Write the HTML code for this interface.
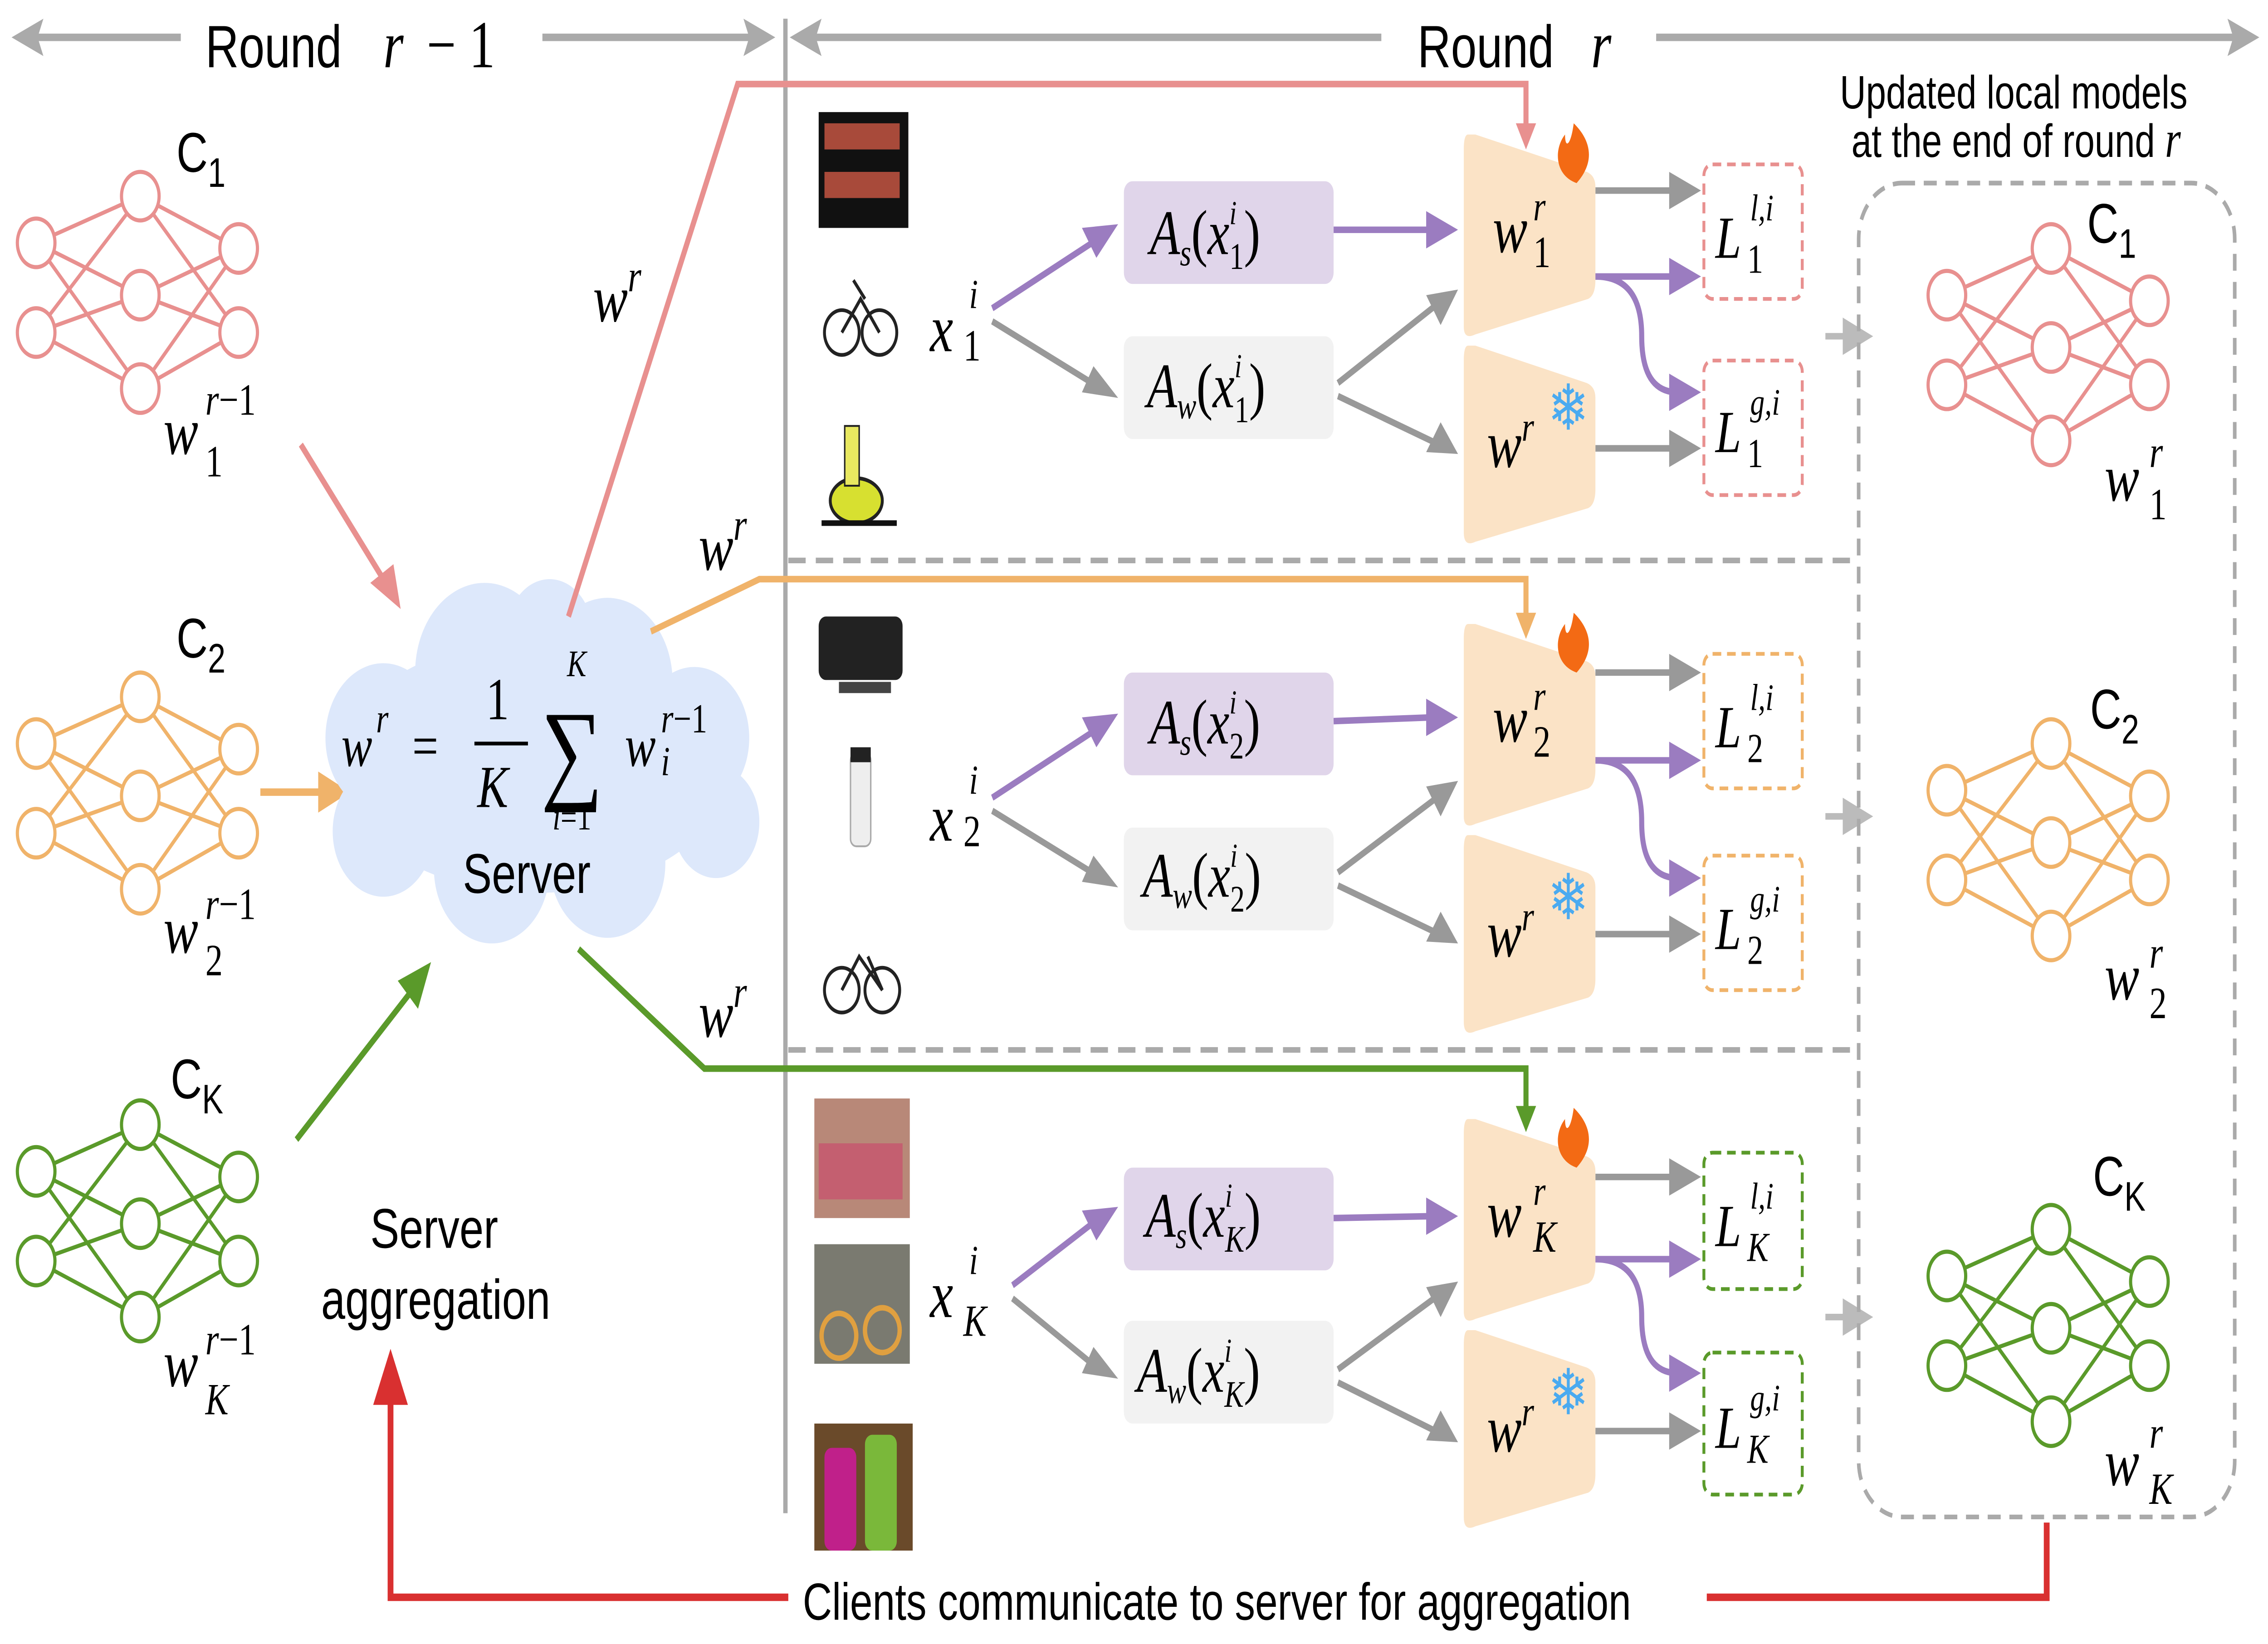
<!DOCTYPE html>
<html><head><meta charset="utf-8"><style>
html,body{margin:0;padding:0;background:#fff;width:100%;height:100%;overflow:hidden}
svg{display:block;width:100vw;height:100vh}
.s{font-family:"Liberation Sans",sans-serif}
.m{font-family:"Liberation Serif","DejaVu Serif",serif;font-style:italic}
.r{font-family:"Liberation Serif","DejaVu Serif",serif;font-style:normal}
</style></head><body>
<svg viewBox="0 0 1568 880" preserveAspectRatio="none" xmlns="http://www.w3.org/2000/svg">
<defs>
<g id="net" fill="#fff" stroke-width="2.2">
<g stroke="currentColor" fill="none">
<path d="M-72,25L0,0M-72,25L0,53M-72,25L0,103M-72,73L0,0M-72,73L0,53M-72,73L0,103M0,0L68,28M0,0L68,73M0,53L68,28M0,53L68,73M0,103L68,28M0,103L68,73"/>
</g>
<g stroke="currentColor">
<circle cx="-72" cy="25" r="13"/><circle cx="-72" cy="73" r="13"/>
<circle cx="0" cy="0" r="13"/><circle cx="0" cy="53" r="13"/><circle cx="0" cy="103" r="13"/>
<circle cx="68" cy="28" r="13"/><circle cx="68" cy="73" r="13"/>
</g>
</g>
<g id="encT"><path d="M1015,72 Q1012,72 1012,80 L1012,175 Q1012,182 1020,179 L1098,160 Q1103,158 1103,150 L1103,100 Q1103,94 1097,92 L1020,72 Z" fill="#fbe3c6"/></g>
<g id="encB"><path d="M1015,185 Q1012,185 1012,193 L1012,285 Q1012,293 1020,290 L1098,272 Q1103,270 1103,262 L1103,213 Q1103,207 1097,205 L1020,185 Z" fill="#fbe3c6"/></g>
</defs>

<g stroke="#aaa" stroke-width="4" fill="#aaa">
<line x1="22" y1="20" x2="125" y2="20"/><line x1="375" y1="20" x2="522" y2="20"/>
<path d="M8,20 L30,10 L26,20 L30,30Z" stroke="none"/>
<path d="M536,20 L514,10 L518,20 L514,30Z" stroke="none"/>
<line x1="560" y1="20" x2="955" y2="20"/><line x1="1145" y1="20" x2="1548" y2="20"/>
<path d="M546,20 L568,10 L564,20 L568,30Z" stroke="none"/>
<path d="M1562,20 L1540,10 L1544,20 L1540,30Z" stroke="none"/>
</g>
<text x="142" y="36" class="s" font-size="32">Round</text>
<text x="265" y="36" class="m" font-size="36">r</text><text x="295" y="36" class="r" font-size="36">− 1</text>
<text x="980" y="36" class="s" font-size="32">Round</text>
<text x="1100" y="36" class="m" font-size="36">r</text>

<line x1="543" y1="10" x2="543" y2="810" stroke="#aaa" stroke-width="3"/>
<g stroke="#aaa" stroke-width="3" stroke-dasharray="12,7">
<line x1="545" y1="300" x2="1280" y2="300"/><line x1="545" y1="562" x2="1280" y2="562"/>
</g>

<use href="#net" x="97" y="105" style="color:#e8908f"/>
<use href="#net" x="97" y="373" style="color:#f0b36a"/>
<use href="#net" x="97" y="602" style="color:#5a9a2a"/>
<text x="122" y="92" class="s" font-size="30">C<tspan font-size="22" dy="8">1</tspan></text>
<text x="122" y="352" class="s" font-size="30">C<tspan font-size="22" dy="8">2</tspan></text>
<text x="118" y="588" class="s" font-size="30">C<tspan font-size="22" dy="8">K</tspan></text>
<g class="m" font-size="36">
<text x="113" y="243">w</text><text x="142" y="222" font-size="24">r<tspan class="r">−1</tspan></text><text x="142" y="255" font-size="24" class="r">1</text>
<text x="113" y="510">w</text><text x="142" y="492" font-size="24">r<tspan class="r">−1</tspan></text><text x="142" y="522" font-size="24" class="r">2</text>
<text x="113" y="742">w</text><text x="142" y="725" font-size="24">r<tspan class="r">−1</tspan></text><text x="142" y="757" font-size="24">K</text>
</g>

<line x1="208" y1="238" x2="265" y2="310" stroke="#e8908f" stroke-width="3.5"/>
<path d="M277,326 L256,312 L272,302Z" fill="#e8908f"/>
<line x1="180" y1="424" x2="222" y2="424" stroke="#f0b36a" stroke-width="4"/>
<path d="M242,424 L220,413 L220,435Z" fill="#f0b36a"/>
<line x1="205" y1="610" x2="285" y2="530" stroke="#5a9a2a" stroke-width="3.5"/>
<path d="M298,515 L275,525 L289,540Z" fill="#5a9a2a"/>

<g fill="#dde8fb">
<ellipse cx="370" cy="410" rx="135" ry="68"/>
<circle cx="335" cy="360" r="48"/><circle cx="420" cy="365" r="45"/><circle cx="265" cy="395" r="40"/>
<circle cx="480" cy="395" r="38"/><circle cx="495" cy="440" r="30"/><circle cx="265" cy="445" r="35"/>
<circle cx="340" cy="465" r="40"/><circle cx="420" cy="462" r="40"/><circle cx="380" cy="340" r="30"/>
</g>
<g class="m" font-size="32">
<text x="236" y="410">w</text><text x="260" y="392" font-size="22">r</text>
<text x="285" y="410" class="r">=</text>
<text x="336" y="385" class="r">1</text><line x1="328" y1="398" x2="365" y2="398" stroke="#000" stroke-width="2"/>
<text x="330" y="432">K</text>
<text x="374" y="422" class="r" font-size="60">∑</text>
<text x="392" y="362" font-size="20">K</text><text x="382" y="444" font-size="20">i<tspan class="r">=1</tspan></text>
<text x="432" y="410">w</text><text x="457" y="392" font-size="22">r<tspan class="r">−1</tspan></text><text x="457" y="415" font-size="22">i</text>
</g>
<text x="320" y="478" class="s" font-size="30">Server</text>
<text x="256" y="668" class="s" font-size="30">Server</text>
<text x="222" y="706" class="s" font-size="30">aggregation</text>

<polyline points="393,330 510,45 1055,45 1055,68" fill="none" stroke="#e8908f" stroke-width="3.5"/>
<path d="M1055,80 L1048,66 L1062,66Z" fill="#e8908f"/>
<polyline points="450,338 525,310 1055,310 1055,330" fill="none" stroke="#f0b36a" stroke-width="3.5"/>
<path d="M1055,342 L1048,328 L1062,328Z" fill="#f0b36a"/>
<polyline points="400,508 487,572 1055,572 1055,593" fill="none" stroke="#5a9a2a" stroke-width="3.5"/>
<path d="M1055,606 L1048,592 L1062,592Z" fill="#5a9a2a"/>
<g class="m" font-size="36">
<text x="410" y="172">w<tspan font-size="24" dy="-16">r</tspan></text>
<text x="483" y="305">w<tspan font-size="24" dy="-16">r</tspan></text>
<text x="483" y="555">w<tspan font-size="24" dy="-16">r</tspan></text>
</g>

<polyline points="1415,815 1415,855 1180,855" fill="none" stroke="#d93030" stroke-width="4"/>
<polyline points="545,855 270,855 270,748" fill="none" stroke="#d93030" stroke-width="4"/>
<path d="M270,722 L258,752 L282,752Z" fill="#d93030"/>
<text x="555" y="867" class="s" font-size="28">Clients communicate to server for aggregation</text>

<rect x="566" y="60" width="62" height="62" fill="#111"/><rect x="570" y="66" width="52" height="14" fill="#a84a3a"/><rect x="570" y="92" width="52" height="14" fill="#a84a3a"/>
<g fill="none" stroke="#222" stroke-width="2"><circle cx="582" cy="178" r="12"/><circle cx="608" cy="178" r="12"/><path d="M582,178 L595,160 L608,178 M590,150 L598,160"/></g>
<ellipse cx="592" cy="268" rx="18" ry="12" fill="#d7e030" stroke="#222" stroke-width="2"/><rect x="584" y="228" width="10" height="32" fill="#e8e860" stroke="#222"/><line x1="568" y1="280" x2="620" y2="280" stroke="#111" stroke-width="3"/>
<rect x="566" y="330" width="58" height="34" rx="5" fill="#222"/><rect x="580" y="365" width="36" height="6" fill="#444"/>
<rect x="588" y="403" width="14" height="50" rx="4" fill="#eee" stroke="#aaa"/><rect x="588" y="400" width="14" height="8" fill="#222"/>
<g fill="none" stroke="#222" stroke-width="2"><circle cx="582" cy="530" r="12"/><circle cx="610" cy="530" r="12"/><path d="M582,530 L594,512 L610,530 L600,512"/></g>
<rect x="563" y="588" width="66" height="64" fill="#b88878"/><rect x="566" y="612" width="58" height="30" fill="#c45f70"/>
<rect x="563" y="666" width="66" height="64" fill="#7a7a70"/><circle cx="580" cy="715" r="12" fill="none" stroke="#e0a040" stroke-width="3"/><circle cx="610" cy="712" r="12" fill="none" stroke="#e0a040" stroke-width="3"/>
<rect x="563" y="762" width="68" height="68" fill="#6a4a2a"/><rect x="570" y="775" width="22" height="55" rx="5" fill="#c0208a"/><rect x="598" y="768" width="22" height="62" rx="5" fill="#7ab83a"/>

<text x="643" y="188" class="m" font-size="36">x</text><text x="670" y="165" class="m" font-size="22">i</text><text x="666" y="193" class="r" font-size="24">1</text>
<text x="643" y="450" class="m" font-size="36">x</text><text x="670" y="425" class="m" font-size="22">i</text><text x="666" y="453" class="r" font-size="24">2</text>
<text x="643" y="705" class="m" font-size="36">x</text><text x="670" y="682" class="m" font-size="22">i</text><text x="666" y="715" class="m" font-size="24">K</text>

<g stroke-width="3.5" fill="none">
<path d="M686,165 L755,130" stroke="#9b7cc0"/><path d="M686,172 L755,205" stroke="#999"/>
<path d="M922,123 L990,123" stroke="#9b7cc0"/>
<path d="M925,205 L995,162 M925,212 L995,238" stroke="#999"/>
<path d="M1103,102 L1160,102 M1103,240 L1160,240" stroke="#999"/>
<path d="M1103,148 L1160,148" stroke="#9b7cc0"/>
<path d="M1103,148 Q1135,148 1135,180 Q1135,210 1160,210" stroke="#9b7cc0"/>
<path d="M686,427 L755,392" stroke="#9b7cc0"/><path d="M686,434 L755,467" stroke="#999"/>
<path d="M922,386 L990,384" stroke="#9b7cc0"/>
<path d="M925,467 L995,426 M925,474 L995,500" stroke="#999"/>
<path d="M1103,360 L1160,360 M1103,500 L1160,500" stroke="#999"/>
<path d="M1103,407 L1160,407" stroke="#9b7cc0"/>
<path d="M1103,407 Q1135,407 1135,440 Q1135,470 1160,470" stroke="#9b7cc0"/>
<path d="M700,688 L755,655" stroke="#9b7cc0"/><path d="M700,695 L755,730" stroke="#999"/>
<path d="M922,652 L990,651" stroke="#9b7cc0"/>
<path d="M925,733 L995,693 M925,740 L995,767" stroke="#999"/>
<path d="M1103,630 L1160,630 M1103,766 L1160,766" stroke="#999"/>
<path d="M1103,674 L1160,674" stroke="#9b7cc0"/>
<path d="M1103,674 Q1135,674 1135,705 Q1135,735 1160,735" stroke="#9b7cc0"/>
<path d="M1262,180 L1280,180 M1262,437 L1280,437 M1262,705 L1280,705" stroke="#bbb"/>
</g>
<g fill="#9b7cc0">
<path d="M773,120 L748,122 L758,138Z"/><path d="M1008,123 L986,113 L986,133Z"/><path d="M1176,148 L1154,138 L1154,158Z"/><path d="M1176,210 L1154,200 L1154,220Z"/>
<path d="M773,382 L748,384 L758,400Z"/><path d="M1008,384 L986,374 L986,394Z"/><path d="M1176,407 L1154,397 L1154,417Z"/><path d="M1176,470 L1154,460 L1154,480Z"/>
<path d="M773,646 L748,648 L758,664Z"/><path d="M1008,651 L986,641 L986,661Z"/><path d="M1176,674 L1154,664 L1154,684Z"/><path d="M1176,735 L1154,725 L1154,745Z"/>
</g>
<g fill="#999">
<path d="M773,213 L748,210 L756,196Z"/><path d="M1008,155 L986,158 L996,174Z"/><path d="M1008,243 L996,226 L986,242Z"/>
<path d="M1176,102 L1154,92 L1154,112Z"/><path d="M1176,240 L1154,230 L1154,250Z"/>
<path d="M773,475 L748,472 L756,458Z"/><path d="M1008,418 L986,421 L996,437Z"/><path d="M1008,505 L996,488 L986,504Z"/>
<path d="M1176,360 L1154,350 L1154,370Z"/><path d="M1176,500 L1154,490 L1154,510Z"/>
<path d="M773,738 L748,735 L756,721Z"/><path d="M1008,686 L986,689 L996,705Z"/><path d="M1008,772 L996,755 L986,771Z"/>
<path d="M1176,630 L1154,620 L1154,640Z"/><path d="M1176,766 L1154,756 L1154,776Z"/>
</g>
<g fill="#bbb"><path d="M1295,180 L1274,170 L1274,190Z"/><path d="M1295,437 L1274,427 L1274,447Z"/><path d="M1295,705 L1274,695 L1274,715Z"/></g>

<rect x="777" y="97" width="145" height="55" rx="6" fill="#e0d5ea"/><rect x="777" y="180" width="145" height="55" rx="6" fill="#f2f2f2"/>
<rect x="777" y="360" width="145" height="55" rx="6" fill="#e0d5ea"/><rect x="777" y="443" width="145" height="55" rx="6" fill="#f2f2f2"/>
<rect x="777" y="625" width="145" height="55" rx="6" fill="#e0d5ea"/><rect x="777" y="707" width="145" height="55" rx="6" fill="#f2f2f2"/>
<g class="m" font-size="34">
<text x="795" y="136">A<tspan font-size="20" dy="6">s</tspan><tspan dy="-6" class="r">(</tspan>x<tspan font-size="18" dy="-16">i</tspan><tspan font-size="20" dx="-5" dy="24" class="r">1</tspan><tspan dy="-8" class="r">)</tspan></text>
<text x="793" y="218">A<tspan font-size="20" dy="6">w</tspan><tspan dy="-6" class="r">(</tspan>x<tspan font-size="18" dy="-16">i</tspan><tspan font-size="20" dx="-5" dy="24" class="r">1</tspan><tspan dy="-8" class="r">)</tspan></text>
<text x="795" y="398">A<tspan font-size="20" dy="6">s</tspan><tspan dy="-6" class="r">(</tspan>x<tspan font-size="18" dy="-16">i</tspan><tspan font-size="20" dx="-5" dy="24" class="r">2</tspan><tspan dy="-8" class="r">)</tspan></text>
<text x="790" y="480">A<tspan font-size="20" dy="6">w</tspan><tspan dy="-6" class="r">(</tspan>x<tspan font-size="18" dy="-16">i</tspan><tspan font-size="20" dx="-5" dy="24" class="r">2</tspan><tspan dy="-8" class="r">)</tspan></text>
<text x="792" y="662">A<tspan font-size="20" dy="6">s</tspan><tspan dy="-6" class="r">(</tspan>x<tspan font-size="18" dy="-16">i</tspan><tspan font-size="20" dx="-5" dy="24">K</tspan><tspan dy="-8" class="r">)</tspan></text>
<text x="786" y="745">A<tspan font-size="20" dy="6">w</tspan><tspan dy="-6" class="r">(</tspan>x<tspan font-size="18" dy="-16">i</tspan><tspan font-size="20" dx="-5" dy="24">K</tspan><tspan dy="-8" class="r">)</tspan></text>
</g>

<use href="#encT"/><use href="#encB"/>
<use href="#encT" y="262"/><use href="#encB" y="262"/>
<use href="#encT" y="527"/><use href="#encB" y="527"/>
<g fill="#f36a14"><path d="M1090,98 C1075,94 1074,80 1082,72 C1082,80 1086,78 1088,66 C1096,72 1106,84 1090,98Z"/>
<path d="M1090,360 C1075,356 1074,342 1082,334 C1082,342 1086,340 1088,328 C1096,334 1106,346 1090,360Z"/>
<path d="M1090,625 C1075,621 1074,607 1082,599 C1082,607 1086,605 1088,593 C1096,599 1106,611 1090,625Z"/></g>
<g class="r" font-size="34" fill="#4aaaf0"><text x="1070" y="230">❄</text><text x="1070" y="492">❄</text><text x="1070" y="757">❄</text></g>
<g class="m" font-size="36">
<text x="1032" y="135">w</text><text x="1060" y="118" font-size="22">r</text><text x="1060" y="143" font-size="24" class="r">1</text>
<text x="1028" y="250">w<tspan font-size="22" dy="-14">r</tspan></text>
<text x="1032" y="397">w</text><text x="1060" y="380" font-size="22">r</text><text x="1060" y="405" font-size="24" class="r">2</text>
<text x="1028" y="512">w<tspan font-size="22" dy="-14">r</tspan></text>
<text x="1028" y="662">w</text><text x="1060" y="645" font-size="22">r</text><text x="1060" y="670" font-size="24">K</text>
<text x="1028" y="777">w<tspan font-size="22" dy="-14">r</tspan></text>
</g>

<g fill="none" stroke-width="2" stroke-dasharray="6,4">
<rect x="1178" y="88" width="68" height="72" rx="6" stroke="#e8908f"/><rect x="1178" y="193" width="68" height="72" rx="6" stroke="#e8908f"/>
<rect x="1178" y="350" width="68" height="72" rx="6" stroke="#f0b36a"/><rect x="1178" y="458" width="68" height="72" rx="6" stroke="#f0b36a"/>
<rect x="1178" y="617" width="68" height="73" rx="6" stroke="#5a9a2a"/><rect x="1178" y="724" width="68" height="76" rx="6" stroke="#5a9a2a"/>
</g>
<g class="m" font-size="32">
<text x="1186" y="138">L</text><text x="1210" y="118" font-size="20">l,i</text><text x="1208" y="146" font-size="22" class="r">1</text>
<text x="1186" y="242">L</text><text x="1210" y="222" font-size="20">g,i</text><text x="1208" y="250" font-size="22" class="r">1</text>
<text x="1186" y="400">L</text><text x="1210" y="380" font-size="20">l,i</text><text x="1208" y="408" font-size="22" class="r">2</text>
<text x="1186" y="508">L</text><text x="1210" y="488" font-size="20">g,i</text><text x="1208" y="516" font-size="22" class="r">2</text>
<text x="1186" y="667">L</text><text x="1210" y="647" font-size="20">l,i</text><text x="1208" y="675" font-size="22">K</text>
<text x="1186" y="775">L</text><text x="1210" y="755" font-size="20">g,i</text><text x="1208" y="783" font-size="22">K</text>
</g>

<text x="1272" y="58" class="s" font-size="25">Updated local models</text>
<text x="1280" y="84" class="s" font-size="25">at the end of round <tspan class="m" font-size="28">r</tspan></text>
<rect x="1285" y="98" width="260" height="714" rx="30" fill="none" stroke="#aaa" stroke-width="2.5" stroke-dasharray="9,6"/>
<use href="#net" x="1418" y="133" style="color:#e8908f"/>
<use href="#net" x="1418" y="398" style="color:#f0b36a"/>
<use href="#net" x="1418" y="658" style="color:#5a9a2a"/>
<text x="1443" y="130" class="s" font-size="30">C<tspan font-size="22" dy="8">1</tspan></text>
<text x="1445" y="390" class="s" font-size="30">C<tspan font-size="22" dy="8">2</tspan></text>
<text x="1447" y="640" class="s" font-size="30">C<tspan font-size="22" dy="8">K</tspan></text>
<g class="m" font-size="36">
<text x="1455" y="268">w</text><text x="1486" y="250" font-size="24">r</text><text x="1486" y="278" font-size="24" class="r">1</text>
<text x="1455" y="535">w</text><text x="1486" y="518" font-size="24">r</text><text x="1486" y="545" font-size="24" class="r">2</text>
<text x="1455" y="795">w</text><text x="1486" y="775" font-size="24">r</text><text x="1486" y="805" font-size="24">K</text>
</g>
</svg>
</body></html>
